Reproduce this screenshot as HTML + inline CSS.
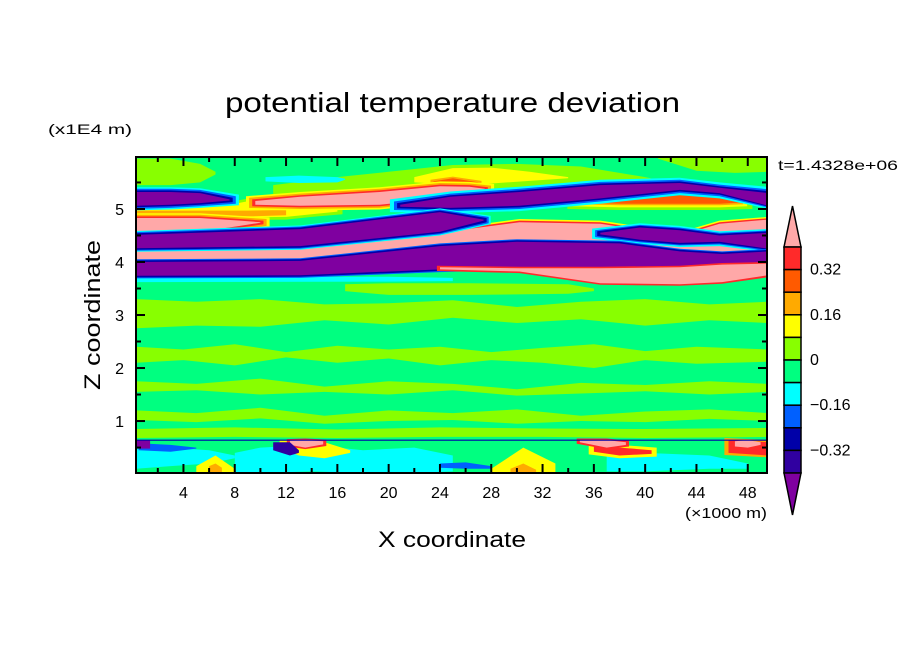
<!DOCTYPE html>
<html><head><meta charset="utf-8"><style>
html,body{margin:0;padding:0;background:#fff;}
svg{display:block;font-family:"Liberation Sans",sans-serif;}
</style></head><body>
<svg id="chart" width="904" height="654" viewBox="0 0 904 654">
<defs><clipPath id="plotclip"><rect x="136" y="157" width="631" height="316"/></clipPath></defs>
<text x="225" y="112" textLength="455" lengthAdjust="spacingAndGlyphs" font-size="28">potential temperature deviation</text>
<text x="48" y="134" textLength="84" lengthAdjust="spacingAndGlyphs" font-size="14">(x1E4 m)</text>
<text x="778" y="170" textLength="120" lengthAdjust="spacingAndGlyphs" font-size="14">t=1.4328e+06</text>
<text x="378" y="547" textLength="148" lengthAdjust="spacingAndGlyphs" font-size="22">X coordinate</text>
<text x="685" y="518" textLength="82" lengthAdjust="spacingAndGlyphs" font-size="15">(×1000 m)</text>
<text transform="translate(100,390) rotate(-90)" textLength="150" lengthAdjust="spacingAndGlyphs" font-size="22">Z coordinate</text>
<g id="field" clip-path="url(#plotclip)"></g>
<g id="axes"></g>
<g id="cbar"></g>
</svg>
<script>
const levelColors=["#7f00a0","#3000a0","#0000a8","#0060ff","#00ffff","#00ff80","#88ff00","#ffff00","#ffaa00","#ff5a00","#ff2a2a","#ffa8a8"];
const cbarLabels=["0.32","0.16","0","\u22120.16","\u22120.32"];
const xTicks=[4,8,12,16,20,24,28,32,36,40,44,48];
const zTicks=[1,2,3,4,5];
const xDomain=[0.3,49.5];
const zDomain=[0.02,5.98];
const bands=[
{lv:6,x:[0.3,3,5.3,6.5],zt:[5.95,5.95,5.85,5.7],zb:[5.45,5.45,5.5,5.65],h:[]},
{lv:6,x:[41,44,47,49.6],zt:[5.98,5.98,5.98,5.98],zb:[5.95,5.72,5.68,5.7],h:[]},
{lv:6,x:[11,16,20,25,30,35,40,43],zt:[5.45,5.6,5.7,5.83,5.85,5.8,5.6,5.45],zb:[5.2,5.2,5.22,5.25,5.3,5.35,5.4,5.42],h:[]},
{lv:7,x:[22,25,28,31,34],zt:[5.6,5.77,5.78,5.7,5.6],zb:[5.5,5.46,5.48,5.53,5.58],h:[]},
{lv:9,x:[23.5,25,27],zt:[5.52,5.58,5.5],zb:[5.4,5.4,5.42],h:[[8,0.03]]},
{lv:4,x:[10.4,13,16,16.6],zt:[5.6,5.63,5.6,5.57],zb:[5.52,5.49,5.5,5.55],h:[]},
{lv:7,x:[0.3,8,12,14,16],zt:[5.06,5.1,5.28,5.3,5.28],zb:[4.86,4.84,4.85,4.9,4.95],h:[[6,0.05]]},
{lv:8,x:[0.3,9,12],zt:[4.97,4.97,4.98],zb:[4.88,4.86,4.88],h:[]},
{lv:9,x:[34.9,38,42,45.8,47.4],zt:[5.22,5.25,5.27,5.22,5.15],zb:[5.12,5.1,5.1,5.1,5.12],h:[[6,0.12],[7,0.07],[8,0.03]]},
{lv:0,x:[0.3,3,5.3,7.6],zt:[5.32,5.32,5.3,5.18],zb:[5.06,5.08,5.11,5.16],h:[[4,0.09],[3,0.06],[2,0.03]]},
{lv:11,x:[9.6,13.1,19.3,24,26.3,27.5],zt:[5.15,5.23,5.32,5.43,5.42,5.38],zb:[5.08,5.06,5.08,5.2,5.33,5.37],h:[[7,0.09],[8,0.06],[10,0.03]]},
{lv:0,x:[20.9,24.8,30.2,36.5,42.7,45.8,49.6],zt:[5.08,5.23,5.32,5.45,5.49,5.4,5.3],zb:[5.04,5.02,5.06,5.2,5.36,5.3,5.06],h:[[4,0.1],[3,0.06],[2,0.03]]},
{lv:11,x:[0.3,5.3,8.4,10],zt:[4.83,4.83,4.78,4.75],zb:[4.57,4.57,4.68,4.74],h:[[7,0.09],[8,0.06],[10,0.03]]},
{lv:11,x:[0.3,13.1,24,30.2,36.5,42.7,45.8,49.6],zt:[4.23,4.32,4.55,4.75,4.72,4.5,4.72,4.8],zb:[4.04,4.05,4.15,4.3,4.2,4.2,4.05,3.95],h:[[7,0.06],[10,0.03]]},
{lv:0,x:[0.3,13.1,24,27.4],zt:[4.51,4.62,4.94,4.8],zb:[4.26,4.3,4.57,4.78],h:[[4,0.07],[3,0.05],[2,0.03]]},
{lv:0,x:[36.5,39.6,42.7,45.8,49.6],zt:[4.55,4.65,4.6,4.5,4.55],zb:[4.52,4.42,4.36,4.38,4.25],h:[[4,0.08],[3,0.05],[2,0.03]]},
{lv:4,x:[0.3,20,25],zt:[3.72,3.72,3.7],zb:[3.62,3.63,3.64],h:[]},
{lv:0,x:[0.3,13.1,24,30,38,42.7,46,49.6],zt:[4.0,4.02,4.3,4.38,4.35,4.2,4.15,4.2],zb:[3.74,3.75,3.86,3.9,3.85,3.8,3.9,4.0],h:[[3,0.05],[2,0.03]]},
{lv:11,x:[24,30.2,36.5,42.7,46,49.6],zt:[3.9,3.88,3.88,3.9,3.95,3.97],zb:[3.86,3.82,3.6,3.58,3.62,3.75],h:[[10,0.03]]},
{lv:6,x:[16.6,20,26.3,34,36],zt:[3.58,3.6,3.6,3.58,3.5],zb:[3.45,3.38,3.38,3.4,3.45],h:[]},
{lv:6,x:[0.3,5,10,15,20,25,30,35,40,45,49.6],zt:[3.3,3.25,3.3,3.2,3.22,3.28,3.15,3.25,3.3,3.2,3.25],zb:[2.75,2.8,2.78,2.9,2.82,2.95,2.85,2.92,2.8,2.9,2.85],h:[]},
{lv:6,x:[0.3,4,8,12,16,20,24,28,32,36,40,44,49.6],zt:[2.4,2.35,2.45,2.3,2.42,2.35,2.4,2.3,2.38,2.45,2.32,2.4,2.35],zb:[2.1,2.15,2.05,2.2,2.1,2.18,2.05,2.15,2.1,2.0,2.15,2.08,2.12],h:[]},
{lv:6,x:[0.3,5,10,15,20,25,30,35,40,45,49.6],zt:[1.75,1.7,1.8,1.65,1.75,1.7,1.6,1.72,1.68,1.75,1.7],zb:[1.55,1.58,1.5,1.55,1.5,1.58,1.48,1.52,1.56,1.5,1.55],h:[]},
{lv:6,x:[0.3,5,10,15,20,25,30,35,40,45,49.6],zt:[1.2,1.15,1.25,1.1,1.2,1.15,1.22,1.1,1.18,1.22,1.15],zb:[1.02,0.98,1.05,0.95,1.0,1.02,0.95,1.0,0.98,1.04,1.0],h:[]},
{lv:6,x:[0.3,8,16,24,32,40,49.6],zt:[0.85,0.88,0.84,0.88,0.86,0.85,0.87],zb:[0.68,0.7,0.68,0.7,0.7,0.68,0.7],h:[]},
{lv:4,x:[0.3,3,6,8],zt:[0.55,0.5,0.45,0.35],zb:[0.1,0.15,0.2,0.3],h:[]},
{lv:4,x:[8,10,14,18,22,25],zt:[0.4,0.5,0.55,0.45,0.5,0.35],zb:[0.02,0.02,0.05,0.02,0.02,0.05],h:[]},
{lv:4,x:[37,40,45,48],zt:[0.35,0.4,0.35,0.2],zb:[0.05,0.05,0.1,0.1],h:[]},
{lv:3,x:[0.5,3,5],zt:[0.58,0.55,0.5],zb:[0.45,0.42,0.48],h:[]},
{lv:3,x:[24,26,28],zt:[0.2,0.22,0.15],zb:[0.12,0.1,0.1],h:[]},
{lv:7,x:[5,6.5,8],zt:[0.15,0.35,0.1],zb:[0.02,0.02,0.02],h:[]},
{lv:8,x:[6,6.5,7],zt:[0.15,0.2,0.12],zb:[0.02,0.02,0.02],h:[]},
{lv:7,x:[28,30.5,33],zt:[0.1,0.5,0.2],zb:[0.02,0.02,0.02],h:[]},
{lv:8,x:[29.5,30.5,31.5],zt:[0.1,0.2,0.08],zb:[0.02,0.02,0.02],h:[]},
{lv:7,x:[11.5,13,15,17],zt:[0.64,0.64,0.6,0.45],zb:[0.5,0.35,0.3,0.4],h:[]},
{lv:11,x:[12.3,13.5,14.9],zt:[0.63,0.64,0.62],zb:[0.55,0.5,0.56],h:[[10,0.03]]},
{lv:10,x:[36,38,40.5],zt:[0.55,0.5,0.45],zb:[0.42,0.35,0.38],h:[[7,0.05]]},
{lv:11,x:[34.9,37,38.5],zt:[0.64,0.64,0.6],zb:[0.6,0.5,0.55],h:[[10,0.03]]},
{lv:10,x:[46.5,49.6],zt:[0.64,0.6],zb:[0.4,0.35],h:[[8,0.04]]},
{lv:11,x:[47,48,49],zt:[0.62,0.64,0.6],zb:[0.52,0.5,0.55],h:[]},
{lv:0,x:[0.3,1.4],zt:[0.64,0.64],zb:[0.48,0.48],h:[]},
{lv:1,x:[11,12.3,13],zt:[0.6,0.6,0.45],zb:[0.45,0.35,0.4],h:[]},
{lv:2,x:[0.3,49.6],zt:[0.65],zb:[0.63],h:[]}
];
const NS="http://www.w3.org/2000/svg";
const X=x=>136+(x-xDomain[0])/(xDomain[1]-xDomain[0])*631;
const Z=z=>473-(z-zDomain[0])/(zDomain[1]-zDomain[0])*316;
function mk(tag,attrs,parent){const e=document.createElementNS(NS,tag);for(const k in attrs)e.setAttribute(k,attrs[k]);parent.appendChild(e);return e;}
const field=document.getElementById('field');
const bg=mk('rect',{x:136,y:157,width:631,height:316,fill:levelColors[5]},field);


function bandPts(b,pad){
  const n=b.x.length,top=[],bot=[];
  for(let i=0;i<n;i++){
    const zt=b.zt[Math.min(i,b.zt.length-1)],zb=b.zb[Math.min(i,b.zb.length-1)];
    let xx=b.x[i];
    if(i===0)xx-=pad*8; if(i===n-1)xx+=pad*8;
    top.push(X(xx).toFixed(1)+","+Z(zt+pad).toFixed(1));
    bot.unshift(X(xx).toFixed(1)+","+Z(zb-pad).toFixed(1));
  }
  return top.concat(bot).join(" ");
}
bands.forEach((b)=>{
  const hs=b.h.slice().sort((a,c)=>c[1]-a[1]);
  hs.forEach(h=>{
    const p=mk('polygon',{points:bandPts(b,h[1]),fill:levelColors[h[0]]},field);
    
    
  });
  const p=mk('polygon',{points:bandPts(b,0),fill:levelColors[b.lv]},field);
  
  
});
const axes=document.getElementById('axes');
const frame=mk('rect',{x:136,y:157,width:631,height:316,fill:'none',stroke:'#000','stroke-width':2},axes);


for(let v=2;v<=48;v+=2){
  const major=xTicks.includes(v),L=major?9:5,x=X(v);
  mk('line',{x1:x,x2:x,y1:473,y2:473-L,stroke:'#000','stroke-width':2},axes);
  mk('line',{x1:x,x2:x,y1:157,y2:157+L,stroke:'#000','stroke-width':2},axes);
}
xTicks.forEach(v=>{
  const t=mk('text',{x:X(v),y:498,'text-anchor':'middle','font-size':16},axes);
  t.textContent=v;
  
  
});
for(let v=0.5;v<=5.5;v+=0.5){
  const major=zTicks.includes(v),L=major?9:5,y=Z(v);
  mk('line',{x1:136,x2:136+L,y1:y,y2:y,stroke:'#000','stroke-width':2},axes);
  mk('line',{x1:767,x2:767-L,y1:y,y2:y,stroke:'#000','stroke-width':2},axes);
}
zTicks.forEach(v=>{
  const t=mk('text',{x:124,y:Z(v)+6,'text-anchor':'end','font-size':16},axes);
  t.textContent=v;
  
  
});
const cb=document.getElementById('cbar');
const cx0=784,cw=17,ctop=247,ch=22.6;
const tri1=mk('polygon',{points:`${cx0},${ctop} ${cx0+cw/2},206 ${cx0+cw},${ctop}`,fill:levelColors[11],stroke:'#000','stroke-width':1.5},cb);


for(let i=0;i<10;i++){
  const r=mk('rect',{x:cx0,y:ctop+i*ch,width:cw,height:ch,fill:levelColors[10-i],stroke:'#000','stroke-width':1.5},cb);
  
  
}
const tri2=mk('polygon',{points:`${cx0},${ctop+10*ch} ${cx0+cw/2},515 ${cx0+cw},${ctop+10*ch}`,fill:levelColors[0],stroke:'#000','stroke-width':1.5},cb);


cbarLabels.forEach((s,i)=>{
  const t=mk('text',{x:810,y:ctop+(1+2*i)*ch+5,'font-size':16},cb);
  t.textContent=s;
  
  
});
</script>
</body></html>
